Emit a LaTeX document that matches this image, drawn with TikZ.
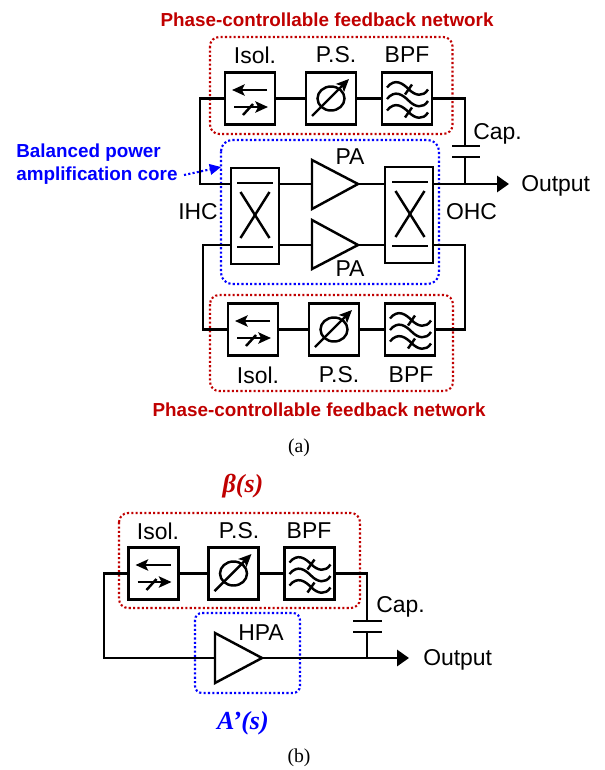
\documentclass[tikz,border=0pt]{standalone}
\usepackage{fontspec}
\setmainfont{Liberation Sans}
\newfontfamily\capfont{Liberation Serif}
\usetikzlibrary{arrows.meta}

\definecolor{netred}{RGB}{192,0,0}
\definecolor{coreblue}{RGB}{0,0,255}

\tikzset{
  wire/.style={line width=1.75pt},
  blockbox/.style={draw, line width=1.8pt, minimum width=1.25cm, minimum height=1.3cm, inner sep=0pt},
  hybridbox/.style={draw, line width=1.8pt, minimum width=1.2cm, minimum height=2.4cm, inner sep=0pt},
  netbox/.style={draw=netred, line width=1.5pt, dash pattern=on 1.5pt off 1.6pt, rounded corners=6.5pt},
  corebox/.style={draw=coreblue, line width=1.5pt, dash pattern=on 1.5pt off 1.6pt, rounded corners=8pt},
  amp/.style={wire, fill=white, line join=miter},
  lbl/.style={font=\fontsize{16.3}{18}\selectfont, inner sep=0pt},
  nettitle/.style={font=\fontsize{13.4}{14}\selectfont\bfseries, text=netred, inner sep=0pt},
  coretitle/.style={font=\fontsize{13.4}{16.4}\selectfont\bfseries, text=coreblue, inner sep=0pt, align=left},
  subcap/.style={font=\capfont\fontsize{14}{16}\selectfont, inner sep=0pt},
  gaintxt/.style={font=\capfont\fontsize{18.5}{20}\selectfont\bfseries\itshape, inner sep=0pt},
  smalltip/.style={-{Stealth[length=9pt,width=8pt,inset=2pt]}},
  outtip/.style={-{Triangle[length=8.5pt,width=11.5pt]}},
}

% symbols inside the blocks, #1 is the centre
\newcommand{\isolsym}[1]{
  \begin{scope}[shift={(#1)}]
    \draw[wire, smalltip] (17,-8.5) -- (-18,-8.5);
    \draw[wire, smalltip] (-16,8.5) -- (18,8.5);
    \draw[wire] (-7,16.5) -- (3,5.5);
  \end{scope}}
\newcommand{\phasesym}[1]{
  \begin{scope}[shift={(#1)}]
    \draw[wire] (0,0) ellipse (13.5 and 12);
    \draw[wire, smalltip] (-19,17.5) -- (18,-19.5);
  \end{scope}}
\newcommand{\bpfsym}[1]{
  \begin{scope}[shift={(#1)}]
    \foreach \dy in {0,11.5,23}
      \draw[wire] (-20,-11+\dy) .. controls (-12,-21+\dy) and (-4,-15+\dy) .. (2,-9+\dy) .. controls (8,-3+\dy) and (16,-1+\dy) .. (21,-9+\dy);
    \draw[wire] (-2,-4) -- (5,-14);
    \draw[wire] (-2,19) -- (5,9);
  \end{scope}}
\newcommand{\hybridsym}[1]{
  \begin{scope}[shift={(#1)}]
    \draw[wire] (-18,-32) -- (18,-32);
    \draw[wire] (-18,32) -- (18,32);
    \draw[wire] (-14.5,-23) -- (14.5,23);
    \draw[wire] (-14.5,23) -- (14.5,-23);
  \end{scope}}

\begin{document}
\begin{tikzpicture}[x=0.025cm,y=-0.025cm]
\useasboundingbox (0,0) rectangle (605,770);

% Part (a)
\node[nettitle] (titletop) at (327,20) {Phase-controllable feedback network};
\draw[netbox] (210,37) rectangle (452.5,134);
\draw[netbox] (210,295) rectangle (453,391);

% Top network
\node[blockbox] (isoltop) at (250,98.5) {};
\node[blockbox] (pstop) at (331,98.5) {};
\node[blockbox] (bpftop) at (407,98.5) {};
\isolsym{250,98.5}
\phasesym{331,98.5}
\bpfsym{407,98.5}
\node[lbl] (isoltoplbl) at (255,55) {Isol.};
\node[lbl] (pstoplbl) at (336,55) {P.S.};
\node[lbl] (bpftoplbl) at (407,55) {BPF};

% Core
\draw[corebox] (221,140) rectangle (439,284);
\node[hybridbox] (ihc) at (255,216) {};
\node[hybridbox] (ohc) at (409,215) {};
\hybridsym{255,215}
\hybridsym{410,214}
\draw[amp] (312,160) -- (358,184) -- (312,209) -- cycle;
\draw[amp] (312,220) -- (358,245) -- (312,269) -- cycle;
\coordinate (paupin) at (312,184);
\coordinate (paupout) at (358,184);
\coordinate (padownin) at (312,245);
\coordinate (padownout) at (358,245);
\node[lbl] (paup) at (350,157) {PA};
\node[lbl] (padown) at (350,269) {PA};
\node[lbl] (ihclbl) at (198,212) {IHC};
\node[lbl] (ohclbl) at (471.5,212) {OHC};

% Bottom network
\node[blockbox] (isolbot) at (253,329.5) {};
\node[blockbox] (psbot) at (334,329.5) {};
\node[blockbox] (bpfbot) at (410,329.5) {};
\isolsym{253,329.5}
\phasesym{334,329.5}
\bpfsym{410,329.5}
\node[lbl] (isolbotlbl) at (258,375) {Isol.};
\node[lbl] (psbotlbl) at (339,375) {P.S.};
\node[lbl] (bpfbotlbl) at (411,375) {BPF};
\node[nettitle] (titlebot) at (319,410) {Phase-controllable feedback network};

% Wires
\coordinate (outa) at (509,184);
\coordinate (capa) at (465,184);
\coordinate (capatop) at (465,146);
\coordinate (capabot) at (465,157);
\draw[wire] (isoltop) -- (pstop);
\draw[wire] (pstop) -- (bpftop);
\draw[wire] (bpftop.east) -- (465,98.5) -- (capatop);
\draw[wire] (isoltop.west) -- (200,98.5) |- (231,184);
\draw[wire] (231,245) -| (203,329.5) -- (isolbot.west);
\draw[wire] (isolbot) -- (psbot);
\draw[wire] (psbot) -- (bpfbot);
\draw[wire] (bpfbot.east) -- (465,329.5) |- (433,245);
\draw[wire] (279,184) -- (paupin);
\draw[wire] (279,245) -- (padownin);
\draw[wire] (paupout) -- (385,184);
\draw[wire] (padownout) -- (385,245);
\draw[wire, outtip] (433,184) -- (outa);
\draw[wire] (capa) -- (capabot);
\draw[wire] (452,146) -- (480,146);
\draw[wire] (452,157) -- (480,157);
\node[lbl, anchor=west] (capalbl) at (473,134) {Cap.};
\node[lbl, anchor=west] (outalbl) at (521,186) {Output};

\node[coretitle, anchor=west] (corelbl) at (16,164) {Balanced power\\amplification core};
\draw[coreblue, line width=1.5pt, dash pattern=on 1.5pt off 1.6pt, -{Triangle[length=8pt,width=7.5pt]}] (184,175) -- (221,167);

\node[subcap] (capta) at (299,448) {(a)};

% Part (b)
\node[gaintxt, text=netred] (betalbl) at (243,486) {β(s)};
\draw[netbox] (119,513) rectangle (360,608);
\node[blockbox] (isolb) at (153.5,573.5) {};
\node[blockbox] (psb) at (233.5,573.5) {};
\node[blockbox] (bpfb) at (309.5,573.5) {};
\isolsym{153.5,573.5}
\phasesym{233.5,573.5}
\bpfsym{309.5,573.5}
\node[lbl] (isolblbl) at (158,531) {Isol.};
\node[lbl] (psblbl) at (239,531) {P.S.};
\node[lbl] (bpfblbl) at (309,531) {BPF};

\draw[corebox, rounded corners=5pt] (195,613) rectangle (300,693);
\draw[amp] (215,633) -- (262,658) -- (215,683) -- cycle;
\coordinate (hpain) at (215,658);
\coordinate (hpaout) at (262,658);
\node[lbl] (hpalbl) at (261,633) {HPA};

\coordinate (outb) at (409,658);
\coordinate (capb) at (367,658);
\coordinate (capbtop) at (367,621);
\coordinate (capbbot) at (367,632);
\draw[wire] (isolb) -- (psb);
\draw[wire] (psb) -- (bpfb);
\draw[wire] (bpfb.east) -- (367,573.5) -- (capbtop);
\draw[wire] (isolb.west) -- (104,573.5) |- (hpain);
\draw[wire, outtip] (hpaout) -- (outb);
\draw[wire] (capb) -- (capbbot);
\draw[wire] (353,621) -- (382,621);
\draw[wire] (353,632) -- (382,632);
\node[lbl, anchor=west] (capblbl) at (376,607) {Cap.};
\node[lbl, anchor=west] (outblbl) at (423,660) {Output};

\node[gaintxt, text=coreblue] (alabel) at (243,723) {A’(s)};
\node[subcap] (captb) at (299,758) {(b)};
\end{tikzpicture}
\end{document}
